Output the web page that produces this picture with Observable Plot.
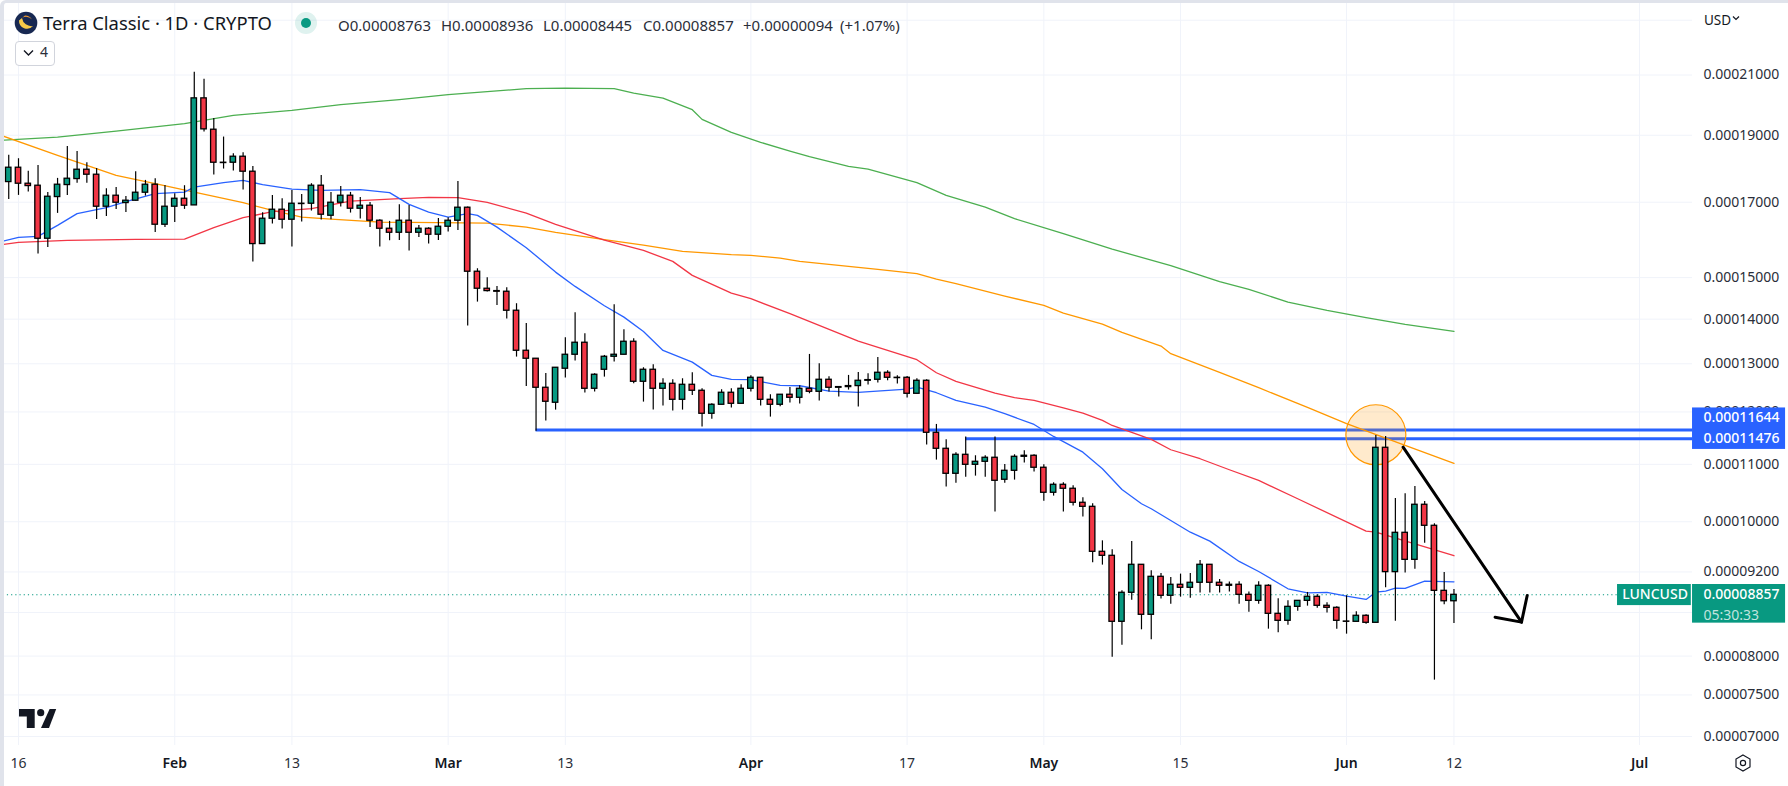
<!DOCTYPE html>
<html><head><meta charset="utf-8">
<script src="https://cdn.jsdelivr.net/npm/d3@7"></script>
<script src="https://cdn.jsdelivr.net/npm/@observablehq/plot@0.6"></script>
<style>
html,body{margin:0;padding:0;background:#fff;width:1788px;height:786px;overflow:hidden;font-family:"Noto Sans",sans-serif;color:#131722}
#chart{position:absolute;left:0;top:0}
#frame{position:absolute;left:0;top:0;width:1784px;height:783px;border-top:3px solid #e0e3eb;border-left:4px solid #e0e3eb;border-top-left-radius:6px;pointer-events:none}
.h{position:absolute;white-space:nowrap;line-height:20px}
.v{font-size:15px;color:#2a2e39;top:15px}
svg.i{position:absolute;overflow:visible}
</style></head><body>
<div id="chart"></div>
<div id="frame"></div>
<svg class="i" style="left:0;top:0" width="60" height="40"><circle cx="26" cy="23" r="11.3" fill="#172852"/><path d="M19 20.5a8 8 0 0 0 14 5.5a9.5 9.5 0 0 1-11-8z" fill="#f7c948"/><path d="M22 18a8 8 0 0 1 10 1.5a9 9 0 0 0-7-4z" fill="#f59e32"/></svg>
<div class="h" style="left:43px;top:13px;font-size:18.4px;color:#131722">Terra Classic · 1D · CRYPTO</div>
<svg class="i" style="left:290px;top:7px" width="32" height="32"><circle cx="16" cy="16" r="11" fill="#089981" fill-opacity=".13"/><circle cx="16" cy="16" r="5" fill="#089981"/></svg>
<div class="h v" style="left:338px">O0.00008763</div>
<div class="h v" style="left:441px">H0.00008936</div>
<div class="h v" style="left:543px">L0.00008445</div>
<div class="h v" style="left:643px">C0.00008857</div>
<div class="h v" style="left:743px">+0.00000094</div>
<div class="h v" style="left:840px">(+1.07%)</div>
<div class="h" style="left:15px;top:41px;width:38px;height:23px;border:1px solid #d1d4dc;border-radius:4px;background:#fff"></div>
<svg class="i" style="left:22px;top:48px" width="14" height="10"><path d="M2 2.5l4.5 4.5l4.5-4.5" fill="none" stroke="#131722" stroke-width="1.4"/></svg>
<div class="h" style="left:40px;top:42px;font-size:14px;color:#2a2e39">4</div>
<div class="h" style="left:1704px;top:10px;font-size:13.5px;color:#131722">USD</div>
<svg class="i" style="left:1732px;top:15px" width="10" height="8"><path d="M1 1.5l3 3l3-3" fill="none" stroke="#131722" stroke-width="1.2"/></svg>
<svg class="i" style="left:0;top:700px" width="70" height="36"><path d="M19 9h15.7v19h-7.9v-11.4h-7.8z" fill="#131722"/><circle cx="40.7" cy="12.7" r="3.6" fill="#131722"/><path d="M49.6 9h6.6l-7.2 19h-8z" fill="#131722"/></svg>
<svg class="i" style="left:1733px;top:753px" width="20" height="20"><path d="M10 2l7 4v8l-7 4l-7-4v-8z" fill="none" stroke="#131722" stroke-width="1.2"/><circle cx="10" cy="10" r="2.6" fill="none" stroke="#131722" stroke-width="1.2"/></svg>
<script>
// Prices are in hundred-millionths of a dollar.
const firstCandle = "2023-01-15";
const opens = [17579,18003,17531,17473,16000,17147,17492,17667,17943,17795,16874,17185,16977,17043,17271,17502,16377,16874,17099,16911,20201,19176,18153,18153,18335,17884,15859,16541,16790,16513,16958,16958,17473,16623,16986,17185,16818,16902,16486,16268,16160,16486,16160,16268,16107,16322,16486,16846,15147,14725,14668,14652,14197,13284,13109,12492,12185,12893,13196,13462,12471,12871,13152,13196,13484,12617,12871,12471,12575,12245,12554,12430,11964,12144,12389,12164,12471,12701,12245,12144,12348,12286,12471,12409,12659,12492,12506,12527,12638,12659,12807,12701,12701,12368,12638,11592,11288,10829,11176,10992,11047,11121,10722,10883,11139,11158,10938,10493,10633,10563,10320,10251,9513,9450,8469,8887,9310,8568,9126,8843,9006,8961,9036,9310,9036,9006,9006,8857,8769,8991,8582,8483,8682,8769,8828,8697,8668,8473,8469,8554,8455,11307,9197,9818,9387,10286,9933,8916,8763];
const closes = [18003,17531,17463,16000,17156,17502,17677,17943,17795,16874,17185,16986,17043,17271,17502,16377,16874,17099,16902,20201,19187,18153,18143,18335,17884,15859,16541,16790,16513,16958,16949,17473,16651,16986,17185,16818,16902,16486,16268,16160,16486,16160,16268,16107,16322,16486,16846,15147,14725,14668,14652,14197,13284,13109,12492,12205,12914,13196,13462,12471,12765,13152,13196,13484,12617,12871,12471,12575,12245,12554,12430,11964,12144,12389,12164,12471,12701,12245,12144,12348,12286,12471,12409,12659,12492,12506,12527,12638,12652,12807,12701,12694,12368,12638,11592,11288,10829,11176,10992,11047,11121,10704,10883,11139,11158,10938,10493,10633,10563,10320,10251,9513,9450,8469,8887,9310,8568,9126,8843,9006,8961,9036,9310,9036,8991,8991,8857,8769,8991,8582,8483,8682,8769,8828,8697,8668,8483,8469,8554,8455,11307,9197,9818,9387,10286,9933,8916,8763,8857];
const highs = [18376,18274,17894,18073,17280,17687,18652,18498,18153,17983,17386,17424,17166,17884,17628,17677,17482,17242,17473,21092,20848,19540,18944,18427,18457,18043,16706,17194,17099,17338,17223,17531,17775,17280,17453,17280,17137,16996,16513,16468,16930,16911,16358,16295,16550,16568,17599,16864,15222,14996,14782,14749,14363,13901,13109,12793,12914,13574,14149,13664,12786,13181,14339,13755,13551,12914,12979,12680,12659,12680,12807,12471,12164,12451,12471,12554,12744,12701,12348,12348,12499,12534,13203,13000,12722,12506,12751,12814,12786,13138,12850,12744,12729,12680,12659,11754,11458,11213,11509,11158,11158,11509,10998,11176,11251,11176,10992,10668,10668,10615,10406,10303,9688,9545,8916,9678,9310,9218,9177,9116,9167,9177,9377,9310,9086,9046,9051,8897,9051,9006,8799,8769,8769,8892,8857,8740,8682,8843,8611,8568,11541,11522,10394,10475,10604,10343,9966,9192,8936];
const lows = [17080,17194,17290,15598,15771,16688,17194,17541,17541,16522,16605,16799,16716,17033,17175,16169,16304,16440,16799,16911,19102,17785,17963,17904,17347,15392,15859,16395,16259,15780,16449,16753,16504,16513,16864,16697,16532,16304,15780,15947,15956,15676,16036,15859,15956,16178,16223,13840,14402,14644,14323,14001,13145,12520,11624,11819,12037,12694,13058,12382,12402,12715,13036,13196,12575,12198,12037,12117,12017,12037,12334,11702,11858,12144,12077,12164,12402,12117,11898,12104,12178,12158,12368,12218,12402,12300,12444,12097,12547,12589,12638,12568,12279,12368,11357,11078,10592,10662,10769,10787,10769,10161,10662,10716,11023,10859,10348,10435,10161,10263,10077,9341,9305,7986,8147,8779,8357,8219,8794,8721,8823,8808,8882,8882,8882,8897,8721,8606,8721,8366,8315,8422,8620,8692,8663,8592,8366,8297,8469,8436,8455,8961,8478,9182,9243,9651,7687,8711,8445];

const maGreen = [["1-14",18839],["1-20",18943],["1-26",19133],["2-2",19369],["2-7",19638],["2-13",19802],["2-18",19990],["2-24",20157],["3-1",20325],["3-4",20403],["3-9",20529],["3-13",20549],["3-18",20529],["3-20",20379],["3-23",20211],["3-26",19825],["3-27",19508],["3-30",19091],["4-2",18777],["4-5",18507],["4-7",18336],["4-11",18043],["4-13",17962],["4-18",17561],["4-21",17194],["4-25",16863],["4-28",16542],["5-3",16135],["5-8",15727],["5-14",15299],["5-19",14898],["5-22",14709],["5-26",14402],["5-30",14204],["6-3",14033],["6-7",13878],["6-12",13717]];
const maOrange = [["1-14",19018],["1-20",18376],["1-26",17775],["1-30",17532],["2-3",17289],["2-8",16987],["2-11",16771],["2-14",16586],["2-17",16531],["2-22",16448],["2-28",16432],["3-5",16421],["3-9",16312],["3-12",16169],["3-17",15974],["3-21",15832],["3-25",15667],["3-30",15581],["4-1",15563],["4-4",15494],["4-6",15409],["4-10",15307],["4-14",15206],["4-18",15097],["4-20",14962],["4-22",14849],["4-27",14546],["5-1",14323],["5-3",14141],["5-7",13885],["5-9",13695],["5-13",13387],["5-14",13219],["5-19",12814],["5-23",12493],["5-28",12091],["6-1",11768],["6-7",11351],["6-12",11017]];
const maRed = [["1-14",15832],["1-16",15903],["1-21",15956],["1-28",15982],["2-2",15990],["2-5",16296],["2-8",16569],["2-11",16735],["2-15",16819],["2-19",17032],["2-24",17100],["2-27",17137],["3-2",17129],["3-5",16996],["3-9",16696],["3-12",16386],["3-17",15964],["3-21",15693],["3-24",15409],["3-26",15055],["3-30",14619],["4-1",14483],["4-5",14127],["4-12",13498],["4-18",13088],["4-20",12808],["4-22",12624],["4-26",12381],["4-28",12287],["4-30",12232],["5-3",12084],["5-5",11977],["5-7",11832],["5-8",11734],["5-12",11465],["5-14",11270],["5-17",11103],["5-20",10902],["5-23",10710],["5-27",10389],["6-3",9845],["6-4",9828],["6-12",9451]];
const maBlue = [["1-14",15911],["1-16",16036],["1-18",16062],["1-20",16358],["1-22",16680],["1-25",16847],["1-27",17015],["1-30",17243],["2-2",17289],["2-3",17433],["2-6",17561],["2-8",17628],["2-10",17503],["2-13",17375],["2-16",17338],["2-20",17358],["2-23",17272],["2-25",16939],["2-27",16724],["3-1",16586],["3-3",16680],["3-4",16633],["3-6",16312],["3-9",15764],["3-12",15137],["3-14",14782],["3-17",14316],["3-19",14047],["3-21",13717],["3-23",13291],["3-26",13035],["3-28",12751],["3-30",12666],["4-1",12660],["4-4",12541],["4-6",12534],["4-9",12422],["4-12",12396],["4-17",12464],["4-18",12505],["4-20",12389],["4-22",12232],["4-25",12097],["4-27",11965],["4-30",11754],["5-2",11522],["5-5",11225],["5-7",10920],["5-9",10551],["5-11",10303],["5-12",10218],["5-16",9828],["5-18",9683],["5-21",9362],["5-23",9207],["5-26",8946],["5-28",8887],["5-30",8892],["6-1",8837],["6-3",8789],["6-4",8896],["6-5",8911],["6-6",8955],["6-7",8951],["6-9",9060],["6-12",9051]];

const priceTicks = [7000,7500,8000,9200,10000,11000,12000,13000,14000,15000,17000,19000,21000];
const priceGrid = [...priceTicks, 8600, 23000];
const dayTicks = [["1-16","16"],["2-13","13"],["3-13","13"],["4-17","17"],["5-15","15"],["6-12","12"]];
const monthTicks = [["2-1","Feb"],["3-1","Mar"],["4-1","Apr"],["5-1","May"],["6-1","Jun"],["7-1","Jul"]];

const levels = [{from:"3-10", price:11644, at:11891, label:"0.00011644"},{from:"4-23", price:11476, at:11484, label:"0.00011476"}];
const lastPrice = 8857, lastLabel = "0.00008857", countdown = "05:30:33", symbol = "LUNCUSD";
const circle = {date:"6-4", price:11554};
const arrowShaft = [["6-6T19:00",11319],["6-18T22:00",8464]];
const arrowHead = [["6-16T05:00",8534],["6-18T22:00",8464],["6-19T12:00",8847]];

const D = s => { const [md,t] = s.split("T"); const [m,d] = md.split("-"); return new Date(`2023-${m.padStart(2,"0")}-${d.padStart(2,"0")}T${t||"00:00"}Z`); };
const pts = a => a.map(([d,p]) => ({date:D(d), price:p}));
const candles = opens.map((o,i) => ({date:d3.utcDay.offset(new Date(firstCandle+"T00:00Z"),i), o, c:closes[i], h:highs[i], l:lows[i]}));
const bodyHalf = 6.7*3600*1000;
const up = "#089981", down = "#f23645", gridC = "#f0f3fa", blue = "#2962ff";
const axisEnd = D("7-6T10:20"), panelEnd = D("7-15T23:00"), pillStart = D("6-28T18:00"), lineStart = D("1-14");
const axisText = "#2a2e39";

const ma = (a,stroke) => Plot.line(pts(a),{x:"date",y:"price",stroke,strokeWidth:1.3,strokeLinejoin:"round"});
const plot = Plot.plot({
  width:1788,height:786,marginTop:0,marginBottom:41,marginLeft:0,marginRight:96,
  style:{fontFamily:'"Noto Sans",sans-serif',fontSize:"14px",background:"transparent",overflow:"visible"},
  x:{type:"utc",domain:[D("1-16"),D("7-1")],range:[18,1639]},
  y:{type:"log",domain:[7000,21000],range:[736,74.5]},
  marks:[
    Plot.gridX([...dayTicks,...monthTicks].map(t=>D(t[0])),{stroke:gridC,strokeOpacity:1,strokeWidth:1}),
    Plot.gridY(priceGrid,{stroke:gridC,strokeOpacity:1,strokeWidth:1}),
    Plot.ruleY([lastPrice],{x1:lineStart,x2:pillStart,stroke:up,strokeWidth:1.1,strokeDasharray:"1.2 3"}),
    Plot.ruleY(levels,{y:"price",x1:d=>D(d.from),x2:()=>axisEnd,stroke:blue,strokeWidth:3}),
    Plot.dot([circle],{x:d=>D(d.date),y:"price",r:30,fill:"#ff9800",fillOpacity:0.2,stroke:"#ff9800",strokeWidth:1.2}),
    ma(maGreen,"#4caf50"),ma(maOrange,"#ff9800"),ma(maRed,"#f23645"),ma(maBlue,"#2962ff"),
    Plot.ruleX(candles,{x:"date",y1:"l",y2:"h",stroke:"#000",strokeWidth:1.2}),
    Plot.rect(candles,{x1:d=>new Date(+d.date-bodyHalf),x2:d=>new Date(+d.date+bodyHalf),y1:"o",y2:"c",fill:d=>d.c>=d.o?up:down,stroke:"#000",strokeWidth:1.3}),
    Plot.line(pts(arrowShaft),{x:"date",y:"price",stroke:"#000",strokeWidth:3}),
    Plot.line(pts(arrowHead),{x:"date",y:"price",stroke:"#000",strokeWidth:3}),
    Plot.axisX({ticks:dayTicks.map(t=>D(t[0])),tickFormat:d=>dayTicks.find(t=>+D(t[0])===+d)[1],tickSize:0,tickPadding:13,label:null,color:axisText,fontSize:14}),
    Plot.axisX({ticks:monthTicks.map(t=>D(t[0])),tickFormat:d=>monthTicks.find(t=>+D(t[0])===+d)[1],tickSize:0,tickPadding:13,label:null,color:"#131722",fontWeight:600,fontSize:14}),
    Plot.axisY({anchor:"right",ticks:priceTicks,tickFormat:d=>(d/1e8).toFixed(8),tickSize:0,tickPadding:11,label:null,color:axisText,fontSize:14}),
    Plot.rect([{a:12080,b:11276}],{x1:()=>axisEnd,x2:()=>panelEnd,y1:"a",y2:"b",fill:blue}),
    Plot.rect([{a:9010,b:8450}],{x1:()=>axisEnd,x2:()=>panelEnd,y1:"a",y2:"b",fill:up}),
    Plot.rect([{a:9010,b:8700}],{x1:()=>pillStart,x2:()=>new Date(+axisEnd-3600e3*3),y1:"a",y2:"b",fill:up}),
    Plot.text(levels,{x:()=>axisEnd,y:"at",text:"label",textAnchor:"start",dx:11,fill:"#fff",fontSize:14,fontWeight:500}),
    Plot.text([lastLabel],{x:()=>axisEnd,y:()=>lastPrice,text:d=>d,textAnchor:"start",dx:11,fill:"#fff",fontSize:14,fontWeight:500}),
    Plot.text([countdown],{x:()=>axisEnd,y:()=>8560,text:d=>d,textAnchor:"start",dx:11,fill:"#fff",fillOpacity:.75,fontSize:14}),
    Plot.text([symbol],{x:()=>new Date((+pillStart+ +axisEnd)/2),y:()=>lastPrice,text:d=>d,fill:"#fff",fontSize:14,fontWeight:500})
  ]
});
document.getElementById("chart").append(plot);
</script></body></html>
